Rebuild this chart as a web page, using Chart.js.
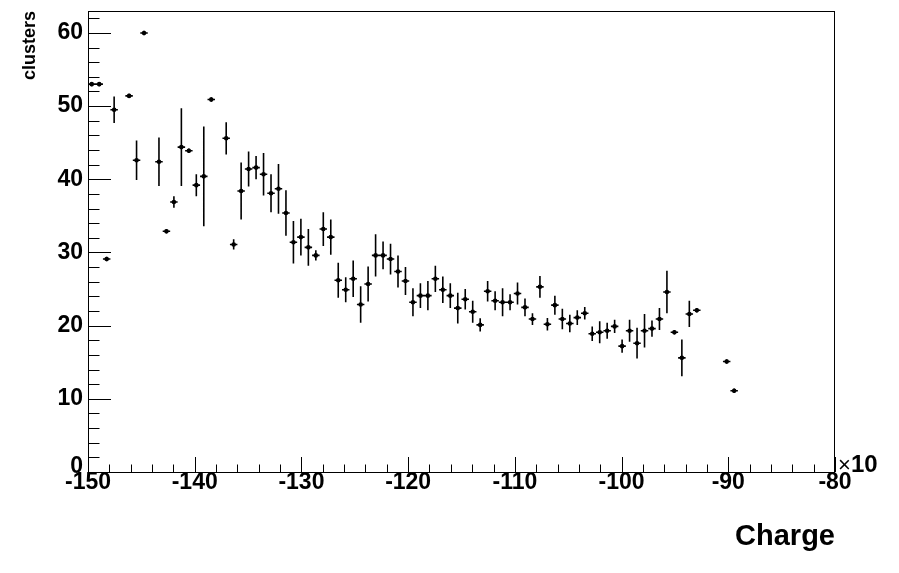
<!DOCTYPE html>
<html>
<head>
<meta charset="utf-8">
<title>clusters vs Charge</title>
<script src="https://cdn.jsdelivr.net/npm/chart.js@4.4.0/dist/chart.umd.min.js"></script>
<style>
  html, body { margin: 0; padding: 0; background: #fff; }
  #chart { display: block; }
</style>
</head>
<body>
<canvas id="chart" width="899" height="573"></canvas>
<script>
// bin centres (units of x10), 0.7 wide bins, only the filled ones
const binCenters = [
    -149.65, -148.95, -148.25, -147.55, -146.15, -145.45, -144.75, -143.35,
    -142.65, -141.95, -141.25, -140.55, -139.85, -139.15, -138.45, -137.05,
    -136.35, -135.65, -134.95, -134.25, -133.55, -132.85, -132.15, -131.45,
    -130.75, -130.05, -129.35, -128.65, -127.95, -127.25, -126.55, -125.85,
    -125.15, -124.45, -123.75, -123.05, -122.35, -121.65, -120.95, -120.25,
    -119.55, -118.85, -118.15, -117.45, -116.75, -116.05, -115.35, -114.65,
    -113.95, -113.25, -112.55, -111.85, -111.15, -110.45, -109.75, -109.05,
    -108.35, -107.65, -106.95, -106.25, -105.55, -104.85, -104.15, -103.45,
    -102.75, -102.05, -101.35, -100.65, -99.95, -99.25, -98.55, -97.85,
    -97.15, -96.45, -95.75, -95.05, -94.35, -93.65, -92.95, -90.15, -89.45
];

const clusterMeans = [
    53.0, 53.0, 29.1, 49.5, 51.4, 42.6, 60.0, 42.4,
    32.9, 36.9, 44.4, 43.9, 39.2, 40.4, 50.9, 45.6,
    31.1, 38.4, 41.4, 41.6, 40.7, 38.1, 38.7, 35.4,
    31.4, 32.1, 30.7, 29.6, 33.2, 32.1, 26.2, 24.9,
    26.4, 22.9, 25.7, 29.6, 29.6, 29.1, 27.4, 26.1,
    23.2, 24.1, 24.1, 26.4, 24.9, 24.1, 22.4, 23.6,
    21.9, 20.1, 24.7, 23.4, 23.2, 23.2, 24.4, 22.5,
    20.9, 25.3, 20.2, 22.8, 20.9, 20.3, 21.1, 21.7,
    18.9, 19.1, 19.3, 19.9, 17.2, 19.3, 17.6, 19.3,
    19.6, 20.9, 24.6, 19.1, 15.6, 21.6, 22.1, 15.1, 11.1
];

const clusterErrors = [
    0.3, 0.3, 0.3, 1.8, 0.3, 2.7, 0.3, 3.3,
    0.3, 0.8, 5.3, 0.3, 1.5, 6.8, 0.3, 2.2,
    0.7, 3.9, 2.4, 1.6, 2.9, 2.6, 3.4, 3.1,
    2.9, 2.5, 2.5, 0.7, 2.3, 2.4, 2.4, 1.7,
    2.5, 2.5, 2.4, 2.9, 1.9, 2.1, 2.2, 1.9,
    1.9, 1.7, 2.0, 1.8, 1.8, 1.7, 2.1, 1.4,
    1.5, 0.9, 1.4, 1.3, 1.9, 1.1, 1.5, 1.2,
    0.8, 1.5, 0.85, 1.3, 1.4, 1.2, 1.0, 0.85,
    1.0, 1.5, 1.1, 0.9, 0.9, 1.5, 2.1, 2.3,
    1.1, 1.5, 2.9, 0.3, 2.5, 1.8, 0.3, 0.3, 0.3
];

const binHalfWidth = 0.35;

const xTickValues = [-150, -140, -130, -120, -110, -100, -90, -80];
const yTickValues = [0, 10, 20, 30, 40, 50, 60];

const FONT = "'Liberation Sans', Arial, Helvetica, sans-serif";

// error bars: vertical = error, horizontal = bin width
const errorBarPlugin = {
    id: "errorBars",
    beforeDatasetsDraw(chart) {
        const ctx = chart.ctx;
        const xs = chart.scales.x;
        const ys = chart.scales.y;
        ctx.save();
        ctx.strokeStyle = "#000";
        ctx.lineWidth = 1.6;
        ctx.beginPath();
        binCenters.forEach((c, i) => {
            const px = xs.getPixelForValue(c);
            const py = ys.getPixelForValue(clusterMeans[i]);
            ctx.moveTo(px, ys.getPixelForValue(clusterMeans[i] + clusterErrors[i]));
            ctx.lineTo(px, ys.getPixelForValue(clusterMeans[i] - clusterErrors[i]));
            ctx.moveTo(xs.getPixelForValue(c - binHalfWidth), py);
            ctx.lineTo(xs.getPixelForValue(c + binHalfWidth), py);
        });
        ctx.stroke();
        ctx.restore();
    }
};

// ROOT style frame with inward ticks, plus the x10 exponent
const framePlugin = {
    id: "rootFrame",
    afterDraw(chart) {
        const ctx = chart.ctx;
        const area = chart.chartArea;
        const xs = chart.scales.x;
        const ys = chart.scales.y;
        ctx.save();
        ctx.strokeStyle = "#000";
        ctx.lineWidth = 1;
        ctx.strokeRect(area.left + 0.5, area.top + 0.5, area.right - area.left - 1, area.bottom - area.top);

        ctx.beginPath();
        for (let v = xs.min; v <= xs.max; v += 2) {
            const px = Math.round(xs.getPixelForValue(v)) + 0.5;
            const len = v % 10 === 0 ? 15 : 7.5;
            ctx.moveTo(px, area.bottom);
            ctx.lineTo(px, area.bottom - len);
        }
        for (let v = ys.min; v <= ys.max; v += 2) {
            const py = Math.round(ys.getPixelForValue(v)) + 0.5;
            const len = v % 10 === 0 ? 23 : 11.5;
            ctx.moveTo(area.left, py);
            ctx.lineTo(area.left + len, py);
        }
        ctx.stroke();

        ctx.fillStyle = "#000";
        ctx.textBaseline = "middle";
        ctx.textAlign = "left";
        ctx.font = "22px " + FONT;
        ctx.fillText("\u00d7", area.right + 3, area.bottom - 6);
        ctx.font = "bold 24px " + FONT;
        ctx.fillText("10", area.right + 16, area.bottom - 7);
        ctx.restore();
    }
};

function buildChart() {
    const ctx = document.getElementById("chart").getContext("2d");
    const points = binCenters.map((c, i) => ({ x: c, y: clusterMeans[i] }));

    return new Chart(ctx, {
        type: "scatter",
        data: {
            datasets: [{
                label: "clusters",
                data: points,
                pointRadius: 2.3,
                pointBackgroundColor: "#000",
                pointBorderColor: "#000",
                pointBorderWidth: 0,
                showLine: false
            }]
        },
        options: {
            responsive: false,
            animation: false,
            devicePixelRatio: 1,
            layout: { padding: { top: 11, right: 64, left: 0, bottom: 0 } },
            plugins: {
                legend: { display: false },
                tooltip: { enabled: false }
            },
            scales: {
                x: {
                    type: "linear",
                    min: -150,
                    max: -80,
                    grid: { display: false, drawTicks: false },
                    border: { display: false },
                    afterBuildTicks: axis => {
                        axis.ticks = xTickValues.map(v => ({ value: v }));
                    },
                    afterFit: axis => {
                        axis.height = 101;
                    },
                    ticks: {
                        color: "#000",
                        padding: -3,
                        maxRotation: 0,
                        font: { family: FONT, size: 23, weight: "bold" }
                    },
                    title: {
                        display: true,
                        text: "Charge",
                        align: "end",
                        color: "#000",
                        font: { family: FONT, size: 29, weight: "bold" },
                        padding: { top: 0, bottom: 19 }
                    }
                },
                y: {
                    type: "linear",
                    min: 0,
                    max: 63,
                    grid: { display: false, drawTicks: false },
                    border: { display: false },
                    afterBuildTicks: axis => {
                        axis.ticks = yTickValues.map(v => ({ value: v }));
                    },
                    afterFit: axis => {
                        axis.width = 88;
                        axis.paddingTop = 0;
                        axis.paddingBottom = 0;
                    },
                    ticks: {
                        color: "#000",
                        padding: 5,
                        // the 0 label sits a little higher, clear of -150
                        callback: v => v === 0 ? ["0", ""] : String(v),
                        font: c => ({
                            family: FONT, size: 23, weight: "bold",
                            lineHeight: c.tick && c.tick.value === 0 ? 0.5 : 1.2
                        })
                    },
                    title: {
                        display: true,
                        text: "clusters",
                        align: "end",
                        color: "#000",
                        font: { family: FONT, size: 18, weight: "bold" },
                        padding: { top: 19, bottom: 0 }
                    }
                }
            }
        },
        plugins: [errorBarPlugin, framePlugin]
    });
}

buildChart();
</script>
</body>
</html>
